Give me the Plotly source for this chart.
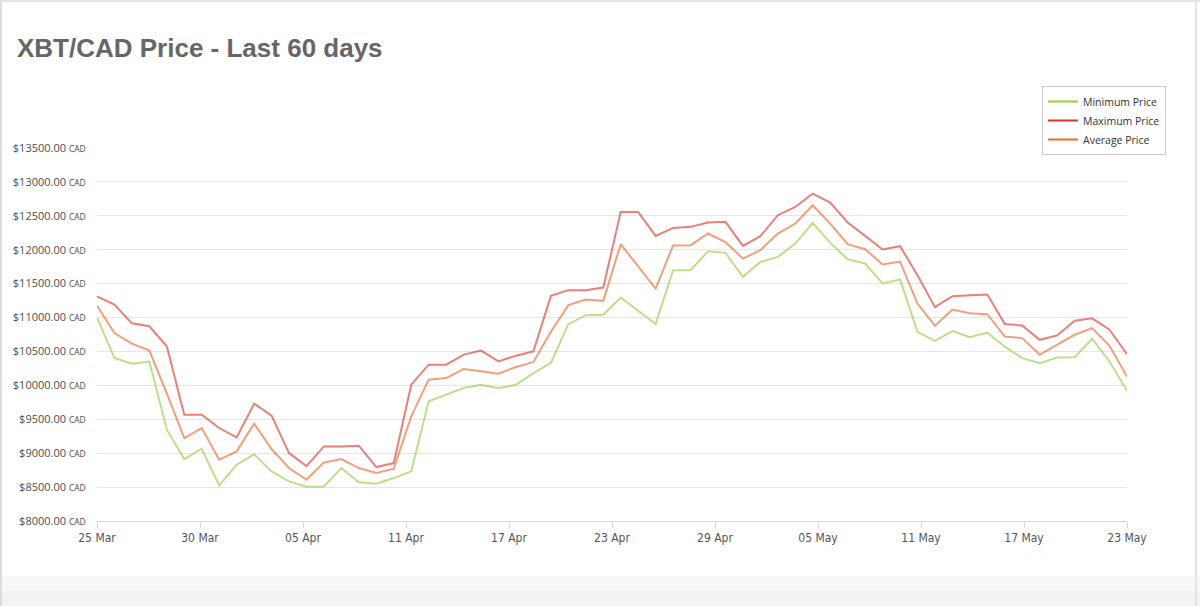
import pandas as pd
import plotly.graph_objects as go

start_date = "2018-03-25"
n_days = 60
dates = pd.date_range(start_date, periods=n_days, freq="D")

max_price = [11313, 11190, 10915, 10871, 10576, 9568, 9568, 9371, 9233, 9730,
             9553, 9002, 8810, 9100, 9100, 9110, 8795, 8854, 10010, 10305,
             10305, 10453, 10512, 10354, 10438, 10502, 11320, 11404, 11404, 11443,
             12558, 12558, 12204, 12322, 12337, 12401, 12411, 12057, 12199, 12509,
             12632, 12828, 12696, 12401, 12204, 12003, 12052, 11625, 11153, 11315,
             11330, 11340, 10905, 10884, 10672, 10736, 10953, 10988, 10820, 10461]

avg_price = [11175, 10772, 10615, 10512, 9880, 9223, 9371, 8904, 9027, 9435,
             9061, 8781, 8609, 8864, 8913, 8781, 8707, 8771, 9543, 10084,
             10108, 10241, 10207, 10172, 10271, 10345, 10790, 11183, 11266, 11246,
             12081, 11757, 11428, 12062, 12067, 12239, 12111, 11870, 11993, 12239,
             12386, 12656, 12386, 12081, 12008, 11782, 11826, 11207, 10878, 11118,
             11063, 11050, 10720, 10697, 10451, 10599, 10746, 10845, 10584, 10131]

min_price = [11000, 10404, 10320, 10350, 9346, 8914, 9066, 8525, 8830, 8983,
             8732, 8584, 8505, 8510, 8781, 8570, 8550, 8633, 8732, 9764,
             9863, 9961, 10010, 9956, 10010, 10180, 10333, 10903, 11035, 11040,
             11296, 11099, 10903, 11698, 11698, 11978, 11954, 11600, 11821, 11895,
             12091, 12396, 12101, 11860, 11797, 11502, 11561, 10790, 10657, 10800,
             10709, 10778, 10570, 10402, 10328, 10411, 10416, 10687, 10352, 9919]

x_tick_labels = ["25 Mar", "30 Mar", "05 Apr", "11 Apr", "17 Apr", "23 Apr",
                 "29 Apr", "05 May", "11 May", "17 May", "23 May"]
y_tick_values = [8000, 8500, 9000, 9500, 10000, 10500, 11000, 11500, 12000, 12500, 13000, 13500]

series = [
    ("Minimum Price", min_price, "rgba(150,200,60,0.6)", "#99cc33"),
    ("Maximum Price", max_price, "rgba(222,50,40,0.62)", "#e03428"),
    ("Average Price", avg_price, "rgba(238,100,40,0.62)", "#f06a2a"),
]

fig = go.Figure()
for name, vals, plot_col, leg_col in series:
    fig.add_trace(go.Scatter(x=dates, y=vals, mode="lines", name=name,
                             line=dict(color=plot_col, width=2), showlegend=False))
for name, vals, plot_col, leg_col in series:
    fig.add_trace(go.Scatter(x=[None], y=[None], mode="lines", name=name,
                             line=dict(color=leg_col, width=2), showlegend=True))

span = dates[-1] - dates[0]
tickvals = [dates[0] + span * i / 10 for i in range(11)]

W, H = 1200, 606
L, R, T, B = 97, 73, 148, 85
pw, ph = W - L - R, H - T - B

def px(x):
    return (x - L) / pw

def py(y):
    return (H - B - y) / ph

shapes = [
    dict(type="rect", xref="paper", yref="paper", x0=px(0), x1=px(W), y0=py(H), y1=py(590),
         fillcolor="#f3f3f3", line=dict(width=0), layer="below"),
    dict(type="rect", xref="paper", yref="paper", x0=px(0), x1=px(W), y0=py(590), y1=py(576),
         fillcolor="#f8f8f8", line=dict(width=0), layer="below"),
    dict(type="rect", xref="paper", yref="paper", x0=px(0), x1=px(2), y0=py(H), y1=py(0),
         fillcolor="#dcdcdc", line=dict(width=0), layer="below"),
    dict(type="rect", xref="paper", yref="paper", x0=px(1195), x1=px(1197), y0=py(H), y1=py(0),
         fillcolor="#e4e4e4", line=dict(width=0), layer="below"),
    dict(type="rect", xref="paper", yref="paper", x0=px(0), x1=px(W), y0=py(2), y1=py(0),
         fillcolor="#e4e4e4", line=dict(width=0), layer="below"),
]

fig.update_layout(
    width=W, height=H,
    margin=dict(l=L, r=R, t=T, b=B),
    paper_bgcolor="white", plot_bgcolor="white",
    title=dict(text="<b>XBT/CAD Price - Last 60 days</b>", x=17 / W, xref="container", xanchor="left",
               y=1 - 48 / H, yref="container", yanchor="middle",
               font=dict(family="Liberation Sans, Arial, sans-serif", size=26, color="#666666")),
    xaxis=dict(type="date", range=[dates[0], dates[-1]], tickvals=tickvals, ticktext=x_tick_labels,
               showgrid=False, showline=True, linecolor="#d8d8d8", linewidth=1,
               ticks="outside", ticklen=6, tickcolor="#d8d8d8",
               tickfont=dict(family="Liberation Sans Narrow, DejaVu Sans Condensed, sans-serif",
                             size=12, color="#555555"),
               zeroline=False),
    yaxis=dict(range=[8000, 13500], tickvals=y_tick_values,
               ticktext=["$%d.00 <span style='font-size:8.5px'>CAD</span>" % v for v in y_tick_values],
               showgrid=True, gridcolor="#e6e6e6", gridwidth=1,
               ticks="outside", ticklen=8, tickcolor="rgba(0,0,0,0)",
               tickfont=dict(family="Open Sans, sans-serif", size=11, color="#4d4d4d"),
               zeroline=False, showline=False),
    legend=dict(x=px(1166), xanchor="right", y=py(86), yanchor="top",
                bgcolor="white", bordercolor="#cccccc", borderwidth=1,
                font=dict(family="Open Sans, sans-serif", size=10.5, color="#333333"),
                itemwidth=30, tracegroupgap=0),
    shapes=shapes,
    showlegend=True,
)

fig.write_html("out.html")
